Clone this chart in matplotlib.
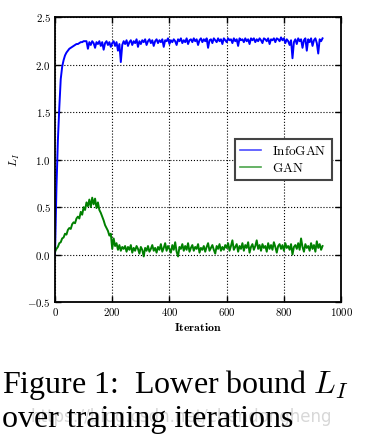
import numpy as np
import matplotlib
matplotlib.use('Agg')
import matplotlib.pyplot as plt
from matplotlib.ticker import FuncFormatter

plt.rcParams['mathtext.fontset'] = 'cm'

# values, one every 5 iterations (0..935)
infogan = [
    0.00, 0.70, 1.20, 1.55, 1.85, 1.98, 2.05, 2.10, 2.13, 2.15, 2.17, 2.18,
    2.19, 2.20, 2.21, 2.22, 2.22, 2.23, 2.24, 2.24, 2.25, 2.25, 2.25, 2.17,
    2.24, 2.21, 2.25, 2.23, 2.18, 2.24, 2.22, 2.25, 2.20, 2.24, 2.16, 2.23,
    2.25, 2.21, 2.24, 2.19, 2.23, 2.25, 2.20, 2.24, 2.15, 2.22, 2.03, 2.21,
    2.25, 2.22, 2.26, 2.20, 2.24, 2.26, 2.21, 2.25, 2.23, 2.27, 2.19, 2.25,
    2.22, 2.26, 2.24, 2.27, 2.21, 2.25, 2.27, 2.23, 2.26, 2.20, 2.25, 2.27,
    2.23, 2.26, 2.24, 2.27, 2.19, 2.26, 2.25, 2.28, 2.22, 2.26, 2.24, 2.27,
    2.25, 2.21, 2.27, 2.25, 2.28, 2.23, 2.26, 2.24, 2.28, 2.22, 2.26, 2.27,
    2.24, 2.28, 2.25, 2.27, 2.21, 2.26, 2.28, 2.24, 2.27, 2.25, 2.28, 2.18,
    2.26, 2.27, 2.23, 2.28, 2.26, 2.24, 2.28, 2.25, 2.27, 2.22, 2.28, 2.26,
    2.24, 2.28, 2.26, 2.27, 2.23, 2.28, 2.25, 2.27, 2.20, 2.28, 2.26, 2.27,
    2.24, 2.28, 2.25, 2.27, 2.22, 2.28, 2.26, 2.28, 2.24, 2.27, 2.25, 2.28,
    2.26, 2.23, 2.28, 2.27, 2.25, 2.28, 2.22, 2.27, 2.26, 2.28, 2.24, 2.28,
    2.27, 2.25, 2.29, 2.26, 2.28, 2.23, 2.27, 2.25, 2.21, 2.26, 2.07, 2.24,
    2.27, 2.22, 2.28, 2.25, 2.27, 2.18, 2.26, 2.28, 2.15, 2.27, 2.24, 2.28,
    2.20, 2.26, 2.28, 2.23, 2.12, 2.27, 2.25, 2.28,
]
gan = [
    0.03, 0.06, 0.08, 0.12, 0.13, 0.17, 0.18, 0.22, 0.21, 0.26, 0.28, 0.27,
    0.32, 0.34, 0.33, 0.38, 0.40, 0.38, 0.45, 0.42, 0.50, 0.47, 0.55, 0.51,
    0.58, 0.50, 0.60, 0.53, 0.59, 0.49, 0.55, 0.47, 0.44, 0.40, 0.36, 0.31,
    0.28, 0.25, 0.20, 0.22, 0.06, 0.17, 0.09, 0.12, 0.05, 0.10, 0.04, 0.08,
    0.06, 0.09, 0.03, 0.08, 0.05, 0.10, 0.02, 0.07, 0.04, 0.09, 0.06, 0.01,
    0.08, 0.05, -0.02, 0.07, 0.04, 0.09, 0.03, 0.06, 0.10, 0.04, 0.07, 0.02,
    0.08, 0.05, 0.11, 0.03, 0.07, 0.12, 0.04, 0.09, 0.06, 0.02, 0.10, 0.05,
    0.13, 0.03, -0.02, 0.08, 0.06, 0.11, 0.04, 0.09, 0.05, 0.12, 0.03, 0.07,
    0.10, 0.04, 0.08, 0.06, 0.11, 0.02, 0.07, 0.05, 0.09, 0.03, 0.08, 0.12,
    0.04, 0.07, 0.10, 0.05, 0.01, 0.09, 0.06, 0.11, 0.04, 0.08, 0.05, 0.10,
    0.07, 0.12, 0.04, 0.09, 0.15, 0.05, 0.08, 0.11, 0.03, 0.09, 0.06, 0.12,
    0.04, 0.10, 0.07, 0.13, 0.02, 0.08, 0.11, 0.05, 0.09, 0.15, 0.06, 0.10,
    0.04, 0.11, 0.07, 0.09, 0.03, 0.12, 0.06, 0.10, 0.05, 0.13, 0.08, 0.02,
    0.09, 0.11, 0.06, 0.10, 0.04, 0.12, 0.07, 0.09, 0.05, 0.11, 0.00, 0.08,
    0.10, 0.06, 0.12, 0.05, 0.17, 0.08, 0.03, 0.11, 0.07, 0.09, 0.04, 0.12,
    0.06, 0.10, 0.03, 0.14, 0.07, 0.11, 0.05, 0.09,
]
iters = np.arange(len(infogan)) * 5

fig = plt.figure(figsize=(3.82, 4.37), dpi=100)
ax = fig.add_axes([0.144, 0.309, 0.749, 0.651])

ax.plot(iters, infogan, color='#0000ff', lw=1.4, label=r'$\mathrm{InfoGAN}$')
ax.plot(iters, gan, color='#008000', lw=1.4, label=r'$\mathrm{GAN}$')

ax.set_xlim(0, 1000)
ax.set_ylim(-0.5, 2.5)
ax.set_xticks([0, 200, 400, 600, 800, 1000])
ax.set_yticks([-0.5, 0.0, 0.5, 1.0, 1.5, 2.0, 2.5])
ax.xaxis.set_major_formatter(FuncFormatter(lambda v, p: r'$\mathbf{%d}$' % v))
ax.yaxis.set_major_formatter(FuncFormatter(lambda v, p: r'$\mathbf{%.1f}$' % v))
ax.tick_params(direction='in', top=True, right=True, length=4, width=1,
               labelsize=7.8, pad=3)
ax.grid(True, color='black', linestyle=':', lw=0.8)
for s in ax.spines.values():
    s.set_linewidth(1.3)

ax.set_xlabel(r'$\mathbf{Iteration}$', fontsize=8.5, labelpad=2)
ax.set_ylabel(r'$L_I$', fontsize=8.5, labelpad=4)

leg = ax.legend(loc='center right', bbox_to_anchor=(0.99, 0.5), fontsize=9.5,
                fancybox=False, handlelength=1.6, borderpad=0.4,
                labelspacing=0.3, framealpha=1)
leg.get_frame().set_edgecolor('#444444')
leg.get_frame().set_linewidth(1.5)
for h in leg.get_lines():
    h.set_linewidth(1.2)
    h.set_alpha(0.7)

fig.text(0.08, 0.045, 'https://blog.csdn.net/chendongheng', fontsize=12,
         color='#d8d8d8', family='DejaVu Sans', va='center')
fig.text(0.005, 0.1, r'Figure 1:  Lower bound $L_I$', fontsize=23,
         family='Liberation Serif', va='baseline')
fig.text(0.005, 0.022, 'over training iterations', fontsize=23,
         family='Liberation Serif', va='baseline')

fig.savefig('out.png', dpi=100)
